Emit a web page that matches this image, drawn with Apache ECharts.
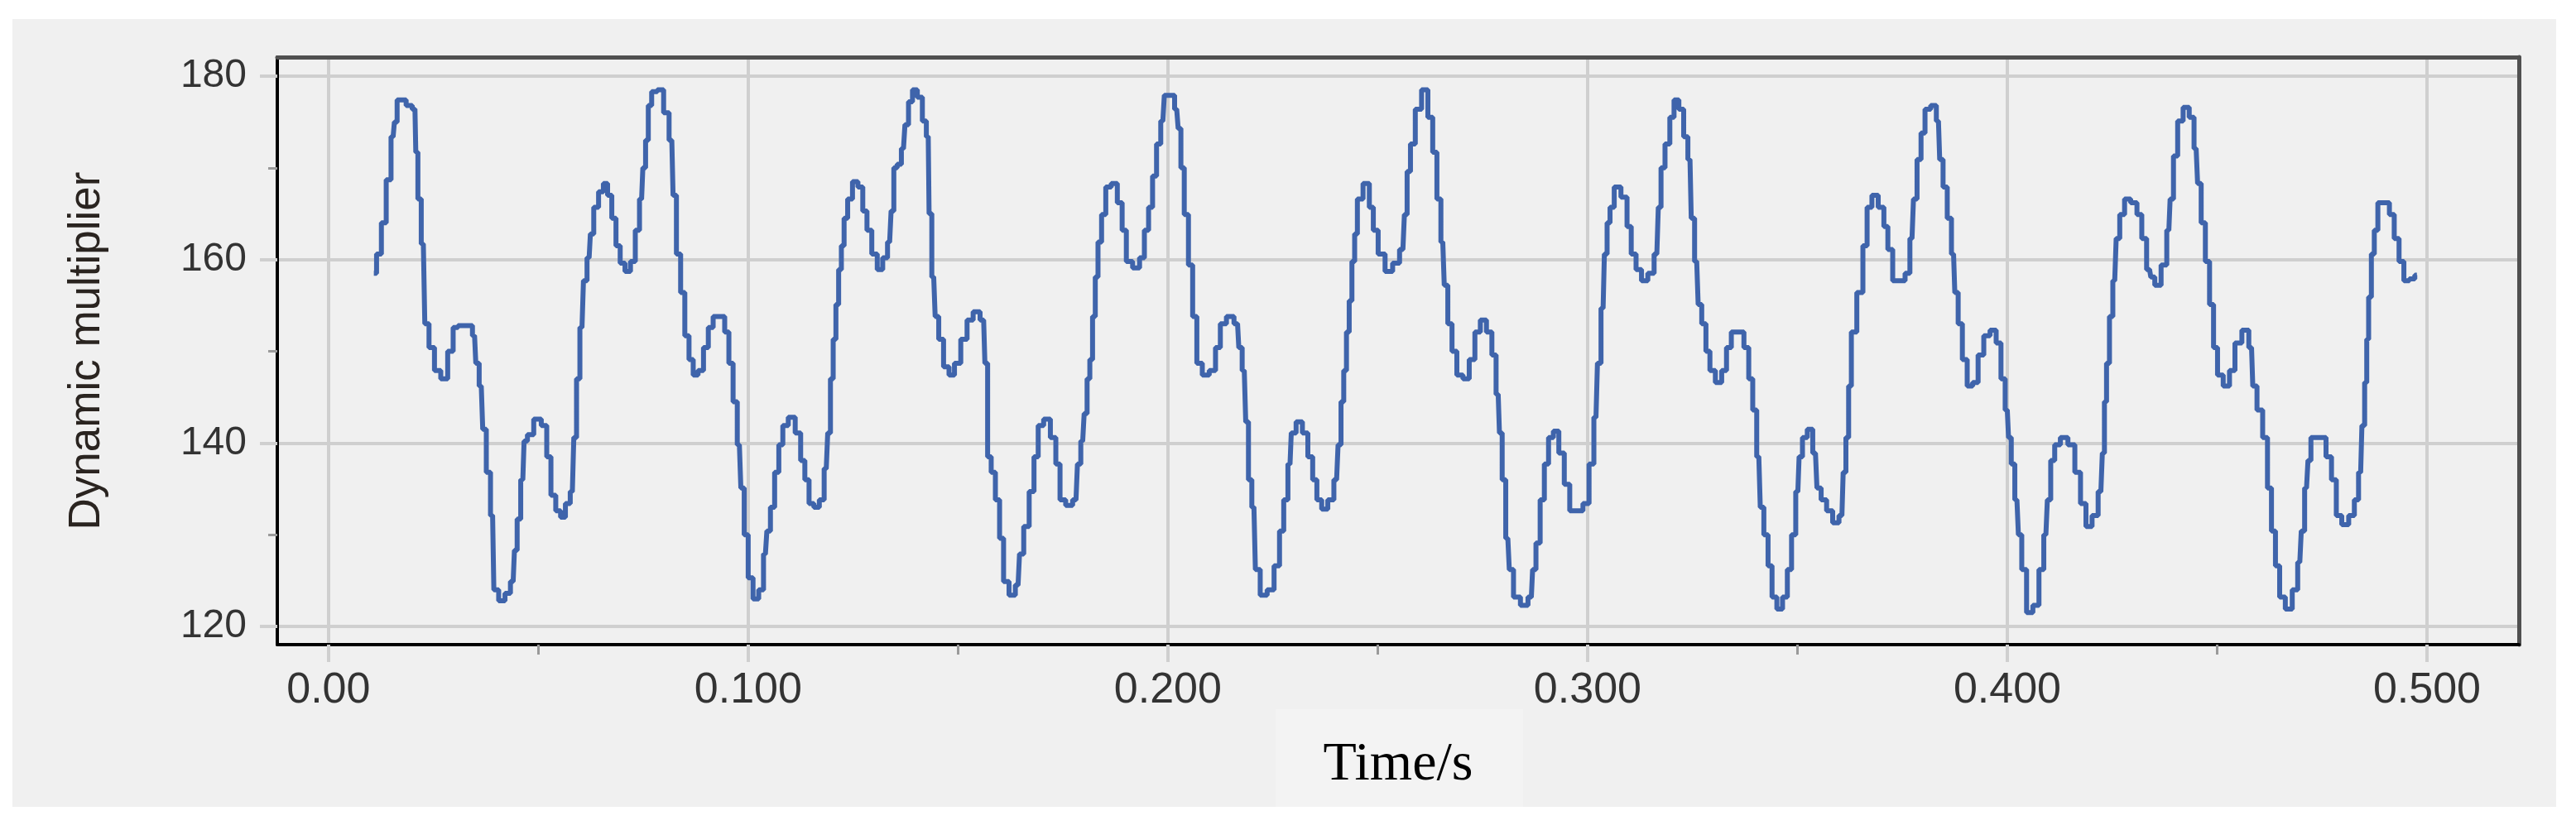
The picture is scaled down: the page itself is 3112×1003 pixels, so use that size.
<!DOCTYPE html>
<html>
<head>
<meta charset="utf-8">
<title>Dynamic multiplier</title>
<script src="https://cdn.jsdelivr.net/npm/echarts@6.0.0/dist/echarts.min.js"></script>
<style>
  html, body { margin: 0; padding: 0; background: #ffffff; }
  #chart { width: 3112px; height: 1003px; }
</style>
</head>
<body>
<div id="chart"></div>
<script>
// 时间 (s)
const timeValues = [
  0.0108, 0.0121, 0.0131, 0.0144, 0.0154, 0.0160, 0.0167, 0.0177, 0.0193, 0.0206,
  0.0210, 0.0216, 0.0226, 0.0233, 0.0246, 0.0259, 0.0276, 0.0292, 0.0302, 0.0315,
  0.0338, 0.0348, 0.0354, 0.0364, 0.0371, 0.0381, 0.0391, 0.0397, 0.0414, 0.0427,
  0.0440, 0.0446, 0.0453, 0.0463, 0.0469, 0.0479, 0.0499, 0.0515, 0.0525, 0.0535,
  0.0548, 0.0558, 0.0571, 0.0581, 0.0588, 0.0594, 0.0604, 0.0611, 0.0621, 0.0627,
  0.0637, 0.0650, 0.0660, 0.0670, 0.0680, 0.0690, 0.0700, 0.0713, 0.0726, 0.0736,
  0.0746, 0.0752, 0.0759, 0.0765, 0.0775, 0.0792,
  0.0805, 0.0818, 0.0824, 0.0834, 0.0844, 0.0854, 0.0864, 0.0874, 0.0887, 0.0900,
  0.0910, 0.0923, 0.0939, 0.0949, 0.0959, 0.0969, 0.0979, 0.0986, 0.0995, 0.1005,
  0.1018, 0.1032, 0.1041, 0.1048, 0.1058, 0.1068, 0.1078, 0.1087, 0.1104, 0.1120,
  0.1130, 0.1140, 0.1150, 0.1163, 0.1176, 0.1186, 0.1193, 0.1199, 0.1206, 0.1212,
  0.1219, 0.1225, 0.1232, 0.1242, 0.1255, 0.1268, 0.1278, 0.1288, 0.1301, 0.1314,
  0.1327, 0.1337, 0.1344, 0.1350, 0.1360, 0.1370, 0.1377, 0.1387, 0.1396, 0.1410,
  0.1420, 0.1429, 0.1433, 0.1442, 0.1449, 0.1459, 0.1472, 0.1485, 0.1498,
  0.1515, 0.1528, 0.1544, 0.1561, 0.1567, 0.1574, 0.1584, 0.1594, 0.1604, 0.1613,
  0.1630, 0.1643, 0.1650, 0.1663, 0.1676, 0.1686, 0.1696, 0.1712, 0.1728, 0.1738,
  0.1748, 0.1765, 0.1781, 0.1788, 0.1797, 0.1804, 0.1811, 0.1817, 0.1824, 0.1830,
  0.1837, 0.1847, 0.1857, 0.1873, 0.1886, 0.1896, 0.1906, 0.1926, 0.1939, 0.1949,
  0.1959, 0.1968, 0.1978, 0.1988, 0.1995, 0.2011, 0.2021, 0.2028, 0.2034, 0.2044,
  0.2054, 0.2064, 0.2074, 0.2090, 0.2107, 0.2120, 0.2130, 0.2149, 0.2166, 0.2172,
  0.2182, 0.2189, 0.2195, 0.2205, 0.2212,
  0.2228, 0.2245, 0.2261, 0.2271, 0.2281, 0.2291, 0.2297, 0.2314, 0.2327, 0.2340,
  0.2350, 0.2360, 0.2373, 0.2389, 0.2402, 0.2409, 0.2416, 0.2422, 0.2429, 0.2435,
  0.2442, 0.2448, 0.2455, 0.2475, 0.2485, 0.2494, 0.2508, 0.2527, 0.2544, 0.2560,
  0.2567, 0.2573, 0.2583, 0.2596, 0.2613, 0.2626, 0.2636, 0.2646, 0.2655, 0.2662,
  0.2672, 0.2682, 0.2695, 0.2711, 0.2725, 0.2738, 0.2751, 0.2767, 0.2777, 0.2787,
  0.2793, 0.2800, 0.2810, 0.2817, 0.2830, 0.2850, 0.2866, 0.2872, 0.2882, 0.2892,
  0.2902, 0.2912, 0.2925,
  0.2938, 0.2951, 0.2964, 0.2981, 0.2997, 0.3010, 0.3020, 0.3027, 0.3037, 0.3043,
  0.3050, 0.3057, 0.3070, 0.3089, 0.3099, 0.3109, 0.3122, 0.3135, 0.3152, 0.3165,
  0.3172, 0.3178, 0.3191, 0.3201, 0.3211, 0.3224, 0.3234, 0.3244, 0.3250, 0.3260,
  0.3267, 0.3277, 0.3287, 0.3296, 0.3313, 0.3326, 0.3336, 0.3349, 0.3366, 0.3379,
  0.3389, 0.3398, 0.3408, 0.3415, 0.3425, 0.3435, 0.3444, 0.3458, 0.3471, 0.3481,
  0.3491, 0.3501, 0.3507, 0.3517, 0.3530, 0.3543, 0.3550, 0.3563, 0.3576, 0.3592,
  0.3606, 0.3612, 0.3619, 0.3625, 0.3632,
  0.3651, 0.3661, 0.3671, 0.3684, 0.3701, 0.3711, 0.3720, 0.3734, 0.3750, 0.3763,
  0.3773, 0.3780, 0.3790, 0.3799, 0.3809, 0.3826, 0.3836, 0.3842, 0.3852, 0.3862,
  0.3872, 0.3878, 0.3888, 0.3898, 0.3911, 0.3924, 0.3937, 0.3951, 0.3967, 0.3980,
  0.3990, 0.4000, 0.4006, 0.4013, 0.4023, 0.4030, 0.4039, 0.4053, 0.4069, 0.4082,
  0.4092, 0.4099, 0.4108, 0.4118, 0.4135, 0.4154, 0.4168, 0.4181, 0.4194, 0.4210,
  0.4223, 0.4230, 0.4233, 0.4240, 0.4247, 0.4256, 0.4263, 0.4273, 0.4286, 0.4302,
  0.4316, 0.4325, 0.4339,
  0.4345, 0.4358, 0.4375, 0.4385, 0.4391, 0.4401, 0.4411, 0.4427, 0.4440, 0.4450,
  0.4457, 0.4467, 0.4477, 0.4487, 0.4496, 0.4506, 0.4523, 0.4536, 0.4549, 0.4569,
  0.4582, 0.4588, 0.4602, 0.4615, 0.4625, 0.4634, 0.4644, 0.4654, 0.4671, 0.4687,
  0.4697, 0.4704, 0.4713, 0.4720, 0.4727, 0.4753, 0.4766, 0.4779, 0.4789, 0.4805,
  0.4822, 0.4832, 0.4842, 0.4848, 0.4855, 0.4858, 0.4864, 0.4871, 0.4878, 0.4888,
  0.4904, 0.4917, 0.4927, 0.4940, 0.4950, 0.4966, 0.4976
];

// 动态倍数
const multiplierValues = [
  158.5, 160.6, 164.0, 168.7, 173.4, 175.0, 177.4, 177.4, 176.8, 176.4,
  171.7, 166.6, 161.7, 153.0, 150.4, 147.9, 147.0, 150.0, 152.6, 152.8,
  152.8, 151.7, 148.7, 146.2, 141.5, 136.8, 132.1, 124.0, 122.8, 123.6,
  124.9, 128.3, 131.7, 136.0, 140.2, 140.9, 142.6, 141.9, 138.5, 134.3,
  132.6, 131.9, 133.4, 134.7, 140.6, 147.0, 152.6, 157.7, 160.2, 162.8,
  165.7, 167.4, 168.3, 167.0, 164.5, 161.5, 159.6, 158.7, 159.8, 163.2,
  166.6, 170.0, 173.0, 176.8, 178.3, 178.5,
  176.0, 173.0, 167.0, 160.6, 156.4, 151.7, 149.1, 147.4, 147.9, 150.4,
  152.6, 153.8, 153.8, 152.1, 148.7, 144.5, 139.8, 135.1, 130.0, 125.3,
  123.0, 124.0, 127.9, 130.4, 133.0, 136.8, 139.8, 141.9, 142.8, 141.1,
  138.1, 136.0, 133.4, 133.0, 133.8, 137.2, 141.1, 147.0, 151.3, 155.1,
  158.9, 161.5, 164.5, 166.6, 168.5, 167.9, 165.3, 163.2, 160.6, 158.9,
  160.2, 161.9, 165.3, 170.0, 170.4, 172.1, 174.7, 177.2, 178.5, 177.7,
  175.1, 173.4, 165.0, 158.1, 153.8, 151.3, 148.3, 147.4, 148.7,
  151.3, 153.4, 154.3, 153.4, 148.7, 138.5, 136.8, 133.8, 129.6, 124.9,
  123.4, 124.5, 127.9, 130.9, 134.7, 138.5, 141.9, 142.6, 140.6, 137.7,
  133.8, 133.2, 133.8, 137.7, 140.2, 143.2, 147.0, 149.1, 153.8, 158.1,
  161.9, 164.9, 167.9, 168.3, 166.2, 163.2, 159.8, 159.1, 160.2, 163.2,
  165.7, 169.1, 172.6, 175.1, 177.9, 177.9, 176.4, 174.3, 170.0, 164.9,
  159.4, 153.8, 148.7, 147.4, 147.9, 150.4, 153.0, 153.8, 153.0, 150.4,
  147.9, 142.3, 136.0, 133.0, 126.2,
  123.4, 124.0, 126.6, 130.4, 133.8, 137.7, 141.1, 142.3, 141.1, 138.5,
  136.0, 133.8, 132.8, 133.8, 136.0, 139.8, 144.5, 147.9, 152.1, 155.5,
  159.8, 162.8, 166.6, 168.3, 165.7, 163.2, 160.6, 158.7, 159.6, 161.1,
  164.9, 169.6, 172.6, 176.4, 178.5, 175.5, 171.7, 166.6, 161.9, 157.2,
  153.0, 150.0, 147.4, 147.0, 149.1, 152.1, 153.4, 152.1, 149.6, 145.3,
  141.1, 136.0, 129.6, 126.2, 123.2, 122.3, 123.2, 126.2, 129.1, 133.8,
  137.7, 140.6, 141.3,
  138.9, 135.5, 132.6, 132.6, 133.4, 137.7, 142.8, 148.7, 154.7, 160.6,
  164.0, 165.7, 167.9, 166.8, 163.6, 160.6, 158.9, 157.7, 158.5, 160.6,
  165.7, 170.0, 172.6, 175.5, 177.4, 176.4, 173.4, 170.9, 164.5, 159.8,
  155.1, 153.0, 150.0, 147.9, 146.6, 147.9, 150.4, 152.1, 152.1, 150.4,
  147.0, 143.6, 138.5, 133.0, 130.0, 126.6, 123.2, 121.9, 123.2, 126.2,
  130.0, 134.7, 138.5, 140.6, 141.5, 138.9, 135.1, 133.8, 132.6, 131.3,
  132.1, 136.8, 140.6, 146.2, 152.1,
  156.4, 161.5, 165.7, 167.0, 165.7, 163.6, 161.1, 157.7, 157.7, 158.5,
  162.3, 166.6, 170.9, 173.8, 176.4, 176.8, 175.1, 170.9, 167.9, 164.5,
  160.6, 156.4, 153.0, 149.1, 146.2, 146.6, 149.6, 151.7, 152.3, 150.9,
  147.0, 143.6, 140.6, 137.7, 133.8, 130.0, 126.2, 121.5, 122.3, 126.2,
  130.0, 133.8, 138.1, 139.8, 140.6, 139.8, 136.8, 133.4, 130.9, 132.1,
  134.7, 138.9, 144.5, 148.7, 153.8, 157.7, 162.3, 164.9, 166.6, 166.2,
  164.9, 162.3, 158.9,
  158.1, 157.2, 159.4, 163.2, 166.6, 171.3, 175.1, 176.6, 175.5, 172.1,
  168.3, 164.0, 159.8, 155.1, 150.4, 147.4, 146.2, 147.9, 150.9, 152.3,
  150.4, 146.2, 143.6, 140.6, 135.1, 130.4, 126.6, 123.2, 121.9, 124.0,
  127.0, 130.4, 135.1, 138.1, 140.6, 140.6, 138.5, 136.0, 132.1, 131.1,
  132.1, 133.8, 136.8, 141.9, 146.6, 151.3, 155.9, 160.6, 163.2, 166.2,
  166.2, 164.9, 162.3, 159.8, 157.7, 157.9, 158.3
];

// 刻度
const xTickValues = [0, 0.1, 0.2, 0.3, 0.4, 0.5];
const xTickLabels = ['0.00', '0.100', '0.200', '0.300', '0.400', '0.500'];
const yTickValues = [120, 140, 160, 180];

const chartDom = document.getElementById('chart');
const chart = echarts.init(chartDom, null, { renderer: 'canvas' });

const seriesData = timeValues.map((t, i) => [t, multiplierValues[i]]);
console.log('points:', seriesData.length);

const gridColor = '#cfcfcf';
const labelFont = '"Liberation Sans", Arial, sans-serif';

const option = {
  backgroundColor: '#ffffff',
  animation: false,
  graphic: [
    {
      type: 'rect',
      z: -10,
      silent: true,
      shape: { x: 15, y: 23, width: 3073, height: 952 },
      style: { fill: '#f0f0f0' }
    },
    {
      type: 'rect',
      z: -9,
      silent: true,
      shape: { x: 1541, y: 857, width: 299, height: 118 },
      style: { fill: '#f3f3f3' }
    }
  ],
  grid: {
    left: 335,
    right: 69,
    top: 69,
    bottom: 224,
    containLabel: false
  },
  xAxis: [
    {
      type: 'value',
      min: -0.0122,
      max: 0.5219,
      splitNumber: 5,
      minInterval: 0.1,
      maxInterval: 0.1,
      name: 'Time/s',
      nameLocation: 'middle',
      nameGap: 113,
      nameTextStyle: {
        fontFamily: '"Liberation Serif", "Times New Roman", serif',
        fontSize: 66,
        color: '#000000',
        verticalAlign: 'top'
      },
      axisLine: { show: true, onZero: false, lineStyle: { color: '#000000', width: 4 } },
      axisTick: {
        show: true,
        length: 21,
        customValues: xTickValues,
        lineStyle: { color: gridColor, width: 4 }
      },
      minorTick: {
        show: true,
        splitNumber: 2,
        length: 12,
        lineStyle: { color: '#9a9a9a', width: 3 }
      },
      axisLabel: {
        customValues: xTickValues,
        margin: 30,
        fontSize: 52,
        fontFamily: labelFont,
        color: '#333333',
        formatter: value => {
          const i = xTickValues.findIndex(v => Math.abs(v - value) < 1e-6);
          return i >= 0 ? xTickLabels[i] : '';
        }
      },
      splitLine: { show: true, lineStyle: { color: gridColor, width: 4 } }
    },
    {
      // 上边框
      type: 'value',
      position: 'top',
      min: -0.0122,
      max: 0.5219,
      axisLine: { show: true, onZero: false, lineStyle: { color: '#505050', width: 5 } },
      axisTick: { show: false },
      axisLabel: { show: false },
      splitLine: { show: false }
    }
  ],
  yAxis: [
    {
      type: 'value',
      min: 118.015,
      max: 182.075,
      splitNumber: 3,
      minInterval: 20,
      maxInterval: 20,
      name: 'Dynamic multiplier',
      nameLocation: 'middle',
      nameRotate: 90,
      nameGap: 203,
      nameTextStyle: {
        fontFamily: labelFont,
        fontSize: 53,
        color: '#2a2420',
        verticalAlign: 'bottom'
      },
      axisLine: { show: true, onZero: false, lineStyle: { color: '#000000', width: 4 } },
      axisTick: {
        show: true,
        length: 21,
        customValues: yTickValues,
        lineStyle: { color: gridColor, width: 4 }
      },
      minorTick: {
        show: true,
        splitNumber: 2,
        length: 11,
        lineStyle: { color: '#9a9a9a', width: 3 }
      },
      axisLabel: {
        customValues: yTickValues,
        margin: 37,
        fontSize: 48,
        fontFamily: labelFont,
        color: '#333333',
        formatter: value => (yTickValues.includes(value) ? String(value) : '')
      },
      splitLine: { show: true, lineStyle: { color: gridColor, width: 4 } }
    },
    {
      // 右边框
      type: 'value',
      position: 'right',
      min: 118.015,
      max: 182.075,
      axisLine: { show: true, onZero: false, lineStyle: { color: '#505050', width: 5 } },
      axisTick: { show: false },
      axisLabel: { show: false },
      splitLine: { show: false }
    }
  ],
  series: [
    {
      name: 'Dynamic multiplier',
      type: 'line',
      xAxisIndex: 0,
      yAxisIndex: 0,
      data: seriesData,
      step: 'middle',
      showSymbol: false,
      symbol: 'none',
      clip: true,
      lineStyle: { color: '#3f64ab', width: 6 }
    }
  ]
};

chart.setOption(option);
</script>
</body>
</html>
